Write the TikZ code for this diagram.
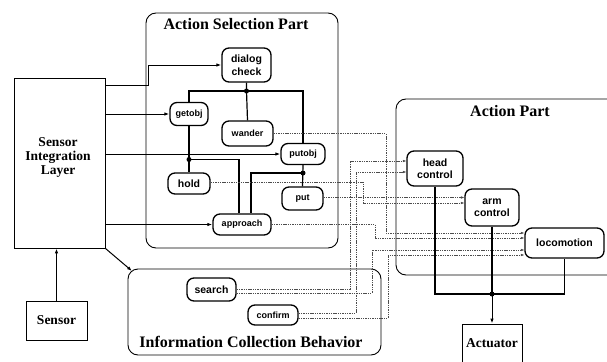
\documentclass[tikz,border=0pt]{standalone}
\usepackage{fontspec}
\setmainfont{Liberation Serif}
\newfontfamily\labelsans{Liberation Sans}
\usetikzlibrary{arrows.meta}

\begin{document}
\begin{tikzpicture}[x=1pt,y=-1pt,
  beh/.style={draw, line width=1.3pt, rounded corners=7pt, inner sep=0pt, align=center,
    font=\labelsans\bfseries\fontsize{9}{10.5}\selectfont},
  bigbeh/.style={beh, font=\labelsans\bfseries\fontsize{10.5}{12.5}\selectfont},
  part/.style={line width=0.9pt, rounded corners=10pt},
  title/.style={font=\bfseries\fontsize{16}{18}\selectfont},
  block/.style={draw, line width=0.9pt, inner sep=0pt, font=\bfseries\fontsize{13.5}{14}\selectfont},
  wire/.style={line width=1.2pt},
  feed/.style={line width=1pt, -{Latex[length=5pt,width=3.5pt]}},
  cmd/.style={line width=0.5pt, black!70, dash pattern=on 1.4pt off 0.9pt,
    -{Latex[length=3.5pt,width=2.6pt]}},
  dotjoin/.style={fill, circle, inner sep=0pt, minimum size=5pt}
]
\useasboundingbox (0,0) rectangle (607,361);

% module frames
\draw[part] (146,13) rectangle (338,248);
\draw[part] (607,99) -| (396,275) -- (607,275);
\draw[part] (128,269) rectangle (381,355);
\node[title] (asptitle) at (236,24) {Action Selection Part};
\node[title] (aptitle) at (510,111) {Action Part};
\node[title] (icbtitle) at (251,342) {Information Collection Behavior};

% sensing side
\node[block, minimum width=91pt, minimum height=170pt] (sil) at (59.5,163) {};
\node[font=\bfseries\fontsize{13.5}{14}\selectfont, align=center] (siltext) at (58,157) {Sensor\\Integration\\Layer};
\node[block, minimum width=61pt, minimum height=39pt] (sensor) at (56.5,320.5) {Sensor};
\node[block, minimum width=60pt, minimum height=38pt] (actuator) at (492,343) {Actuator};

% behaviours
\node[bigbeh, minimum width=49pt, minimum height=34pt] (dialog) at (246.5,65) {dialog\\check};
\node[beh, minimum width=38pt, minimum height=23pt] (getobj) at (189,114) {getobj};
\node[beh, minimum width=51pt, minimum height=25pt] (wander) at (247.5,133.5) {wander};
\node[beh, minimum width=44pt, minimum height=21pt] (putobj) at (303,154) {putobj};
\node[bigbeh, minimum width=42pt, minimum height=21pt] (hold) at (189,183.5) {hold};
\node[beh, minimum width=41pt, minimum height=23pt] (put) at (302.5,198.5) {put};
\node[beh, minimum width=58pt, minimum height=21pt] (approach) at (242,224.5) {approach};
\node[bigbeh, minimum width=56pt, minimum height=35pt] (head) at (435,168.5) {head\\control};
\node[bigbeh, minimum width=54pt, minimum height=37pt] (arm) at (492,207.5) {arm\\control};
\node[bigbeh, minimum width=79pt, minimum height=30pt] (loco) at (564.5,243) {locomotion};
\node[bigbeh, minimum width=49pt, minimum height=23pt] (search) at (211.5,289.5) {search};
\node[beh, minimum width=50pt, minimum height=20pt] (confirm) at (273,315) {confirm};

% junctions
\coordinate (j1) at (246.5,91);
\coordinate (j2) at (189,159.5);
\coordinate (j3) at (303,173);
\coordinate (j4) at (492,294);
\coordinate (icbin) at (132,271);

% sensor data paths
\draw[feed] (sensor.north) -- (sensor.north |- sil.south);
\draw[feed] (sil.east |- 0,85) -- (148,85) |- (dialog.west);
\draw[feed] (sil.east |- getobj.west) -- (getobj.west);
\draw[feed] (sil.east |- putobj.west) -- (putobj.west);
\draw[feed] (sil.east |- approach.west) -- (approach.west);
\draw[feed] (sil.south east) -- (icbin);

% behaviour hierarchy
\draw[wire] (dialog.south) -- (j1) -- (wander.north);
\draw[wire] (getobj.north) |- (j1) -| (putobj.north);
\draw[wire] (getobj.south) -- (hold.north);
\draw[wire] (j2) -| ([xshift=-3pt]approach.north);
\draw[wire] (putobj.south) -- (put.north);
\draw[wire] (j3) -| ([xshift=9pt]approach.north);
\node[dotjoin] at (j1) {};
\node[dotjoin] at (j2) {};
\node[dotjoin] at (j3) {};

% commands to the action part
\draw[cmd] (wander.east) -| (386,233) -- (loco.west |- 0,233);
\draw[cmd] (approach.east) -| (375,238) -- (loco.west |- 0,238);
\draw[cmd] (search.east |- 0,289) -| (350,161) -- (head.west |- 0,161);
\draw[cmd] (search.east |- 0,293) -| (372,250) -- (loco.west |- 0,250);
\draw[cmd] (confirm.east |- 0,313) -| (356,172) -- (head.west |- 0,172);
\draw[cmd] (confirm.east |- 0,318) -| (388,255) -- (loco.west |- 0,255);
\draw[cmd] (hold.east |- 0,182) -| (363,203) -- (arm.west |- 0,203);
\draw[cmd] (put.east |- 0,197.5) -- (arm.west |- 0,197.5);

% actuator merge
\draw[wire] (head.south) |- (j4) -| (loco.south);
\draw[wire] (arm.south) -- (j4);
\draw[feed] (j4) -- (actuator.north);
\node[dotjoin] at (j4) {};
\end{tikzpicture}
\end{document}
